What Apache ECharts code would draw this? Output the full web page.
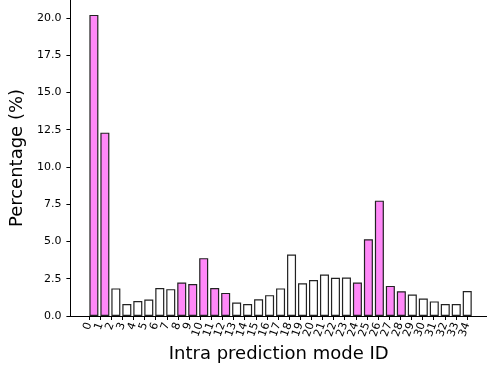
<!DOCTYPE html>
<html>
<head>
<meta charset="utf-8">
<script src="https://cdn.jsdelivr.net/npm/echarts@6/dist/echarts.min.js"></script>
<style>
  html, body { margin: 0; padding: 0; background: #fff; }
  #chart { width: 487px; height: 371px; }
</style>
</head>
<body>
<div id="chart"></div>
<script>
  // mode IDs 0..34 and share of each mode (%)
  const modes = [0, 1, 2, 3, 4, 5, 6, 7, 8, 9, 10, 11, 12, 13, 14, 15, 16, 17,
    18, 19, 20, 21, 22, 23, 24, 25, 26, 27, 28, 29, 30, 31, 32, 33, 34];
  const percentages = [20.2, 12.3, 1.85, 0.8, 1.0, 1.1, 1.88, 1.8, 2.25, 2.15,
    3.88, 1.88, 1.55, 0.9, 0.8, 1.12, 1.4, 1.85, 4.12, 2.2, 2.42, 2.78, 2.56,
    2.58, 2.24, 5.15, 7.74, 2.02, 1.66, 1.44, 1.17, 0.98, 0.8, 0.8, 1.68];
  // modes drawn in pink
  const highlighted = [0, 1, 8, 9, 10, 11, 12, 24, 25, 26, 27, 28];
  const yTicks = [0, 2.5, 5, 7.5, 10, 12.5, 15, 17.5, 20];

  const font = 'DejaVu Sans';
  const chart = echarts.init(document.getElementById('chart'));

  const option = {
    animation: false,
    grid: [
      // main plot area (spines + bars)
      { left: 65, right: 0, top: 0, bottom: 55 },
      // tick labels: first / last mode centres, so every label is shown
      { left: 89, right: 20, top: 0, bottom: 55 },
    ],
    xAxis: [
      {
        type: 'value',
        gridIndex: 0,
        min: -2.14,
        max: 35.8,
        name: 'Intra prediction mode ID',
        nameLocation: 'middle',
        nameGap: 29,
        nameTextStyle: { fontFamily: font, fontSize: 18, color: '#000' },
        splitLine: { show: false },
        axisLine: { show: true, onZero: false, lineStyle: { color: '#000', width: 1 } },
        axisTick: { show: false },
        axisLabel: { show: false },
      },
      {
        type: 'category',
        gridIndex: 1,
        data: modes,
        boundaryGap: false,
        axisLine: { show: false, onZero: false },
        axisTick: {
          show: true,
          length: 4,
          interval: 0,
          lineStyle: { color: '#000' },
        },
        axisLabel: {
          interval: 0,
          rotate: 70,
          margin: 7,
          fontFamily: font,
          fontSize: 11,
          color: '#000',
        },
        splitLine: { show: false },
      },
    ],
    yAxis: [
      {
        type: 'value',
        gridIndex: 0,
        min: 0,
        max: 21.2,
        name: 'Percentage (%)',
        nameLocation: 'middle',
        nameGap: 40,
        nameTextStyle: { fontFamily: font, fontSize: 18, color: '#000' },
        splitLine: { show: false },
        axisLine: { show: true, onZero: false, lineStyle: { color: '#000', width: 1 } },
        axisTick: {
          show: true,
          length: 4,
          lineStyle: { color: '#000' },
          customValues: yTicks,
        },
        axisLabel: {
          margin: 9,
          fontFamily: font,
          fontSize: 11,
          color: '#000',
          hideOverlap: false,
          customValues: yTicks,
          formatter: (v) => v.toFixed(1),
        },
      },
      {
        type: 'value',
        gridIndex: 1,
        min: 0,
        max: 21.2,
        show: false,
      },
    ],
    series: [
      {
        type: 'bar',
        xAxisIndex: 0,
        yAxisIndex: 0,
        barWidth: 9,
        data: modes.map((m, i) => [m, percentages[i]]),
        itemStyle: {
          color: (p) => (highlighted.includes(p.data[0]) ? '#ff88f8' : '#ffffff'),
          borderColor: '#222',
          borderWidth: 1.2,
        },
      },
    ],
  };

  chart.setOption(option);
</script>
</body>
</html>
